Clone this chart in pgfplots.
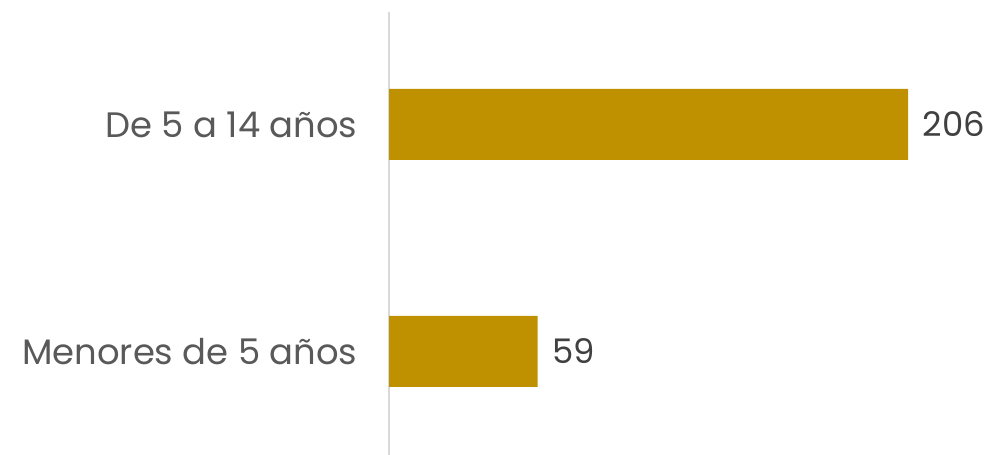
\documentclass[border=0pt]{standalone}
\usepackage{pgfplots}
\pgfplotsset{compat=1.18}
\usepackage{fontspec}
\setmainfont{Poppins}
\definecolor{barcol}{HTML}{BF9000}
\definecolor{labgray}{HTML}{595959}
\definecolor{valgray}{HTML}{404040}
\definecolor{axgray}{HTML}{D9D9D9}
\begin{document}
\begin{tikzpicture}[x=1bp,y=1bp]
  % frame fixes the page to the reference size
  \path[use as bounding box] (0,0) rectangle (989,455);
  \begin{axis}[
      at={(389bp,0bp)}, anchor=south west,
      scale only axis,
      width=519bp, height=443bp,
      xbar, bar width=0.3128,
      xmin=0, xmax=206,
      ymin=-0.456, ymax=1.4956,
      hide x axis,
      axis y line*=left,
      y axis line style={axgray, line width=1.5bp},
      ytick={0,1},
      yticklabels={Menores de 5 años, De 5 a 14 años},
      major tick length=0pt,
      yticklabel style={font=\fontsize{35.5}{42}\selectfont, text=labgray, xshift=-28bp},
      nodes near coords,
      /pgf/number format/assume math mode=true,
      nodes near coords style={font=\fontsize{34}{40}\selectfont, text=valgray, xshift=11bp},
      clip=false,
    ]
    \addplot[fill=barcol, draw=none] coordinates {
      (59,0)
      (206,1)
    };
  \end{axis}
\end{tikzpicture}
\end{document}
